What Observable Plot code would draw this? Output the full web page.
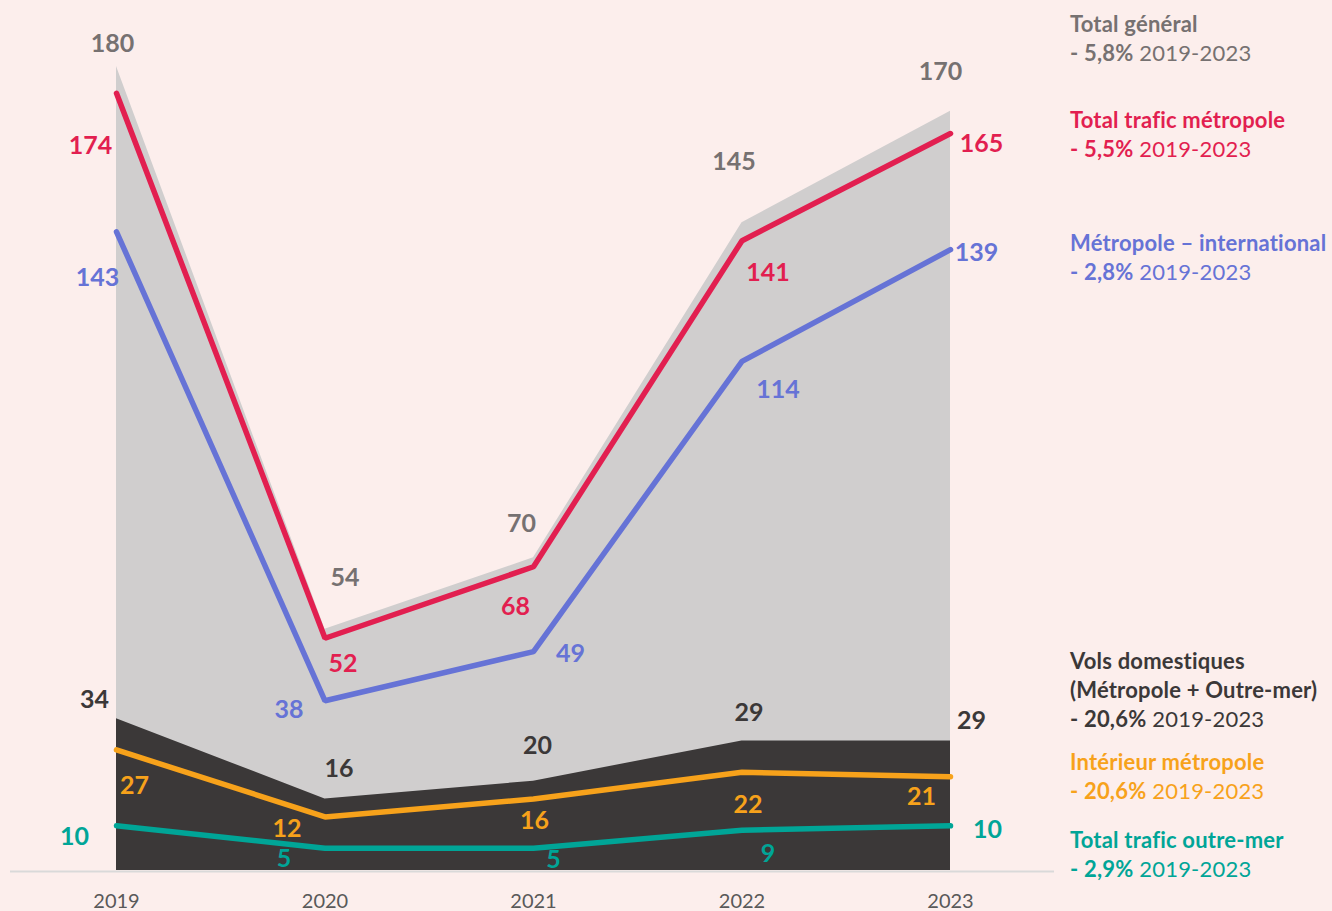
<!DOCTYPE html>
<html><head><meta charset="utf-8">
<script src="https://cdn.jsdelivr.net/npm/d3@7"></script>
<script src="https://cdn.jsdelivr.net/npm/@observablehq/plot@0.6"></script>
<style>
html,body{margin:0;padding:0;background:#FCEEEC;}
#wrap{position:relative;width:1332px;height:911px;overflow:hidden;font-family:Lato,"Noto Sans",sans-serif;}
#wrap svg{position:absolute;left:0;top:0;}
.leg{position:absolute;left:1070px;font-size:22px;line-height:29px;white-space:nowrap;letter-spacing:0.2px;}
.leg .t{font-weight:700}
</style></head><body><div id="wrap"></div>
<script>
// ---- data ----
const years = [2019, 2020, 2021, 2022, 2023];
const totalGeneral = [180, 54, 70, 145, 170];
const totalMetropole = [174, 52, 68, 141, 165];
const metropoleInternational = [143, 38, 49, 114, 139];
const volsDomestiques = [34, 16, 20, 29, 29];
const interieurMetropole = [27, 12, 16, 22, 21];
const outreMer = [10, 5, 5, 9, 10];

const legendTitles = ["Total général", "Total trafic métropole", "Métropole – international",
  "Vols domestiques|(Métropole + Outre-mer)", "Intérieur métropole", "Total trafic outre-mer"];
const legendChanges = ["- 5,8%", "- 5,5%", "- 2,8%", "- 20,6%", "- 20,6%", "- 2,9%"];
const legendPeriod = "2019-2023";

// ---- styling / layout ----
const series = [
  {values: totalGeneral, color: "#D0CECE", text: "#767171", kind: "area",
   off: [[-4,-23],[20,-51],[-12,-34],[-8,-61],[-10,-39]], legendTop: 9},
  {values: totalMetropole, color: "#E21F50", text: "#E21F50", kind: "line",
   off: [[-26,53],[18,26],[-18,40],[26,32],[31,10]], legendTop: 105},
  {values: metropoleInternational, color: "#6673D6", text: "#6673D6", kind: "line",
   off: [[-19,46],[-36,9],[37,2],[36,29],[26,3]], legendTop: 228},
  {values: volsDomestiques, color: "#3B3838", text: "#3B3838", kind: "area",
   off: [[-22,-19],[14,-30],[4,-35],[7,-28],[21,-20]], legendTop: 646},
  {values: interieurMetropole, color: "#F7A21B", text: "#F7A21B", kind: "line",
   off: [[18,36],[-38,12],[1,22],[6,33],[-29,20]], legendTop: 747},
  {values: outreMer, color: "#00A597", text: "#00A597", kind: "line",
   off: [[-42,11],[-41,11],[20,12],[26,24],[37,4]], legendTop: 825}
];

const idx = years.map((_, i) => i);
const marks = [];
marks.push(Plot.ruleY([0], {stroke: "#D9D9D9", strokeWidth: 2, insetLeft: -106, insetRight: -104, dy: 1}));
// areas first
for (const s of series.filter(s => s.kind === "area")) {
  marks.push(Plot.areaY(idx, {x: i => years[i], y: i => s.values[i], fill: s.color, curve: "linear"}));
}
for (const s of series.filter(s => s.kind === "line")) {
  marks.push(Plot.line(idx, {x: i => years[i], y: i => s.values[i], stroke: s.color, strokeWidth: 5.5,
    strokeLinecap: "round", strokeLinejoin: "miter", curve: "linear"}));
}
for (const s of series) {
  idx.forEach(i => {
    marks.push(Plot.text([i], {x: j => years[j], y: j => s.values[j], text: j => String(s.values[j]),
      dx: s.off[i][0], dy: s.off[i][1], fill: s.text, fontSize: 25, fontWeight: "bold"}));
  });
}
marks.push(Plot.axisX(years, {tickSize: 0, tickPadding: 23, tickFormat: d => String(d),
  fontSize: 20, fill: "#595959", color: "#595959"}));

const chart = Plot.plot({
  width: 1332, height: 911,
  marginLeft: 116, marginRight: 382, marginTop: 66, marginBottom: 41,
  style: {background: "transparent", fontFamily: "Lato, 'Noto Sans', sans-serif", overflow: "visible"},
  x: {domain: [2019, 2023], axis: null},
  y: {domain: [0, 180], axis: null},
  marks
});
const wrap = document.getElementById("wrap");
wrap.appendChild(chart);

series.forEach((s, k) => {
  const div = document.createElement("div");
  div.className = "leg";
  div.style.top = s.legendTop + "px";
  div.style.color = s.text;
  const lines = legendTitles[k].split("|").map(t => `<div class="t">${t}</div>`).join("");
  div.innerHTML = lines + `<div><b>${legendChanges[k]}</b> ${legendPeriod}</div>`;
  wrap.appendChild(div);
});
</script></body></html>
